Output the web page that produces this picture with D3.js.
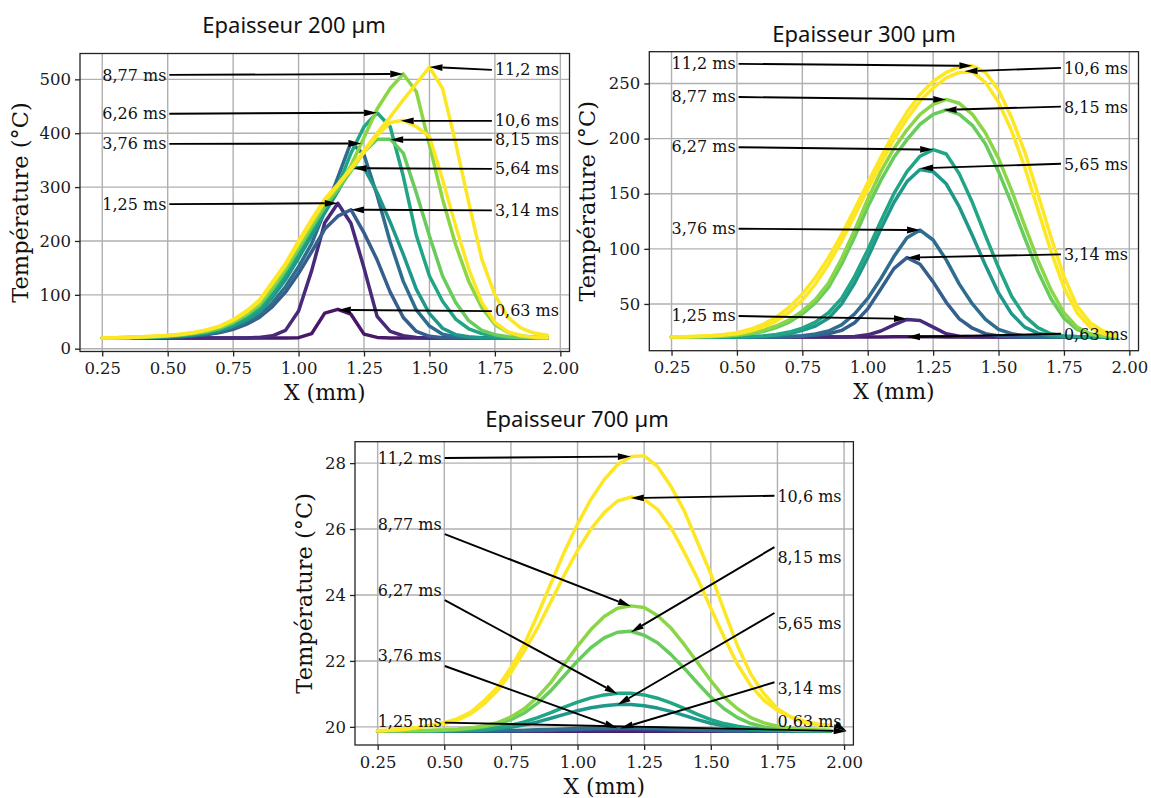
<!DOCTYPE html>
<html><head><meta charset="utf-8">
<script src="https://cdn.jsdelivr.net/npm/d3@7"></script>
<style>
html,body{margin:0;padding:0;background:#fff;}
svg{display:block;}
</style></head><body>
<svg id="chart" width="1151" height="798"></svg>
<script>
// ---------------- DATA ----------------
const X_MM = [0.25,0.30,0.35,0.40,0.45,0.50,0.55,0.60,0.65,0.70,0.75,0.80,0.85,0.90,0.95,1.00,1.05,1.10,1.15,1.20,1.25,1.30,1.35,1.40,1.45,1.50,1.55,1.60,1.65,1.70,1.75,1.80,1.85,1.90,1.95];
const TIMES_MS = [0.63,1.25,3.14,3.76,5.64,6.26,8.15,8.77,10.6,11.2];
const X_TICKS = [0.25,0.50,0.75,1.00,1.25,1.50,1.75,2.00];
const Y_TICKS_200 = [0,100,200,300,400,500];
const Y_TICKS_300 = [50,100,150,200,250];
const Y_TICKS_700 = [20,22,24,26,28];
const TITLES = ["Epaisseur 200 µm","Epaisseur 300 µm","Epaisseur 700 µm"];

// Epaisseur 200 µm
const T200_063 = [20,20,20,20,20,20,20,20,20,20,20,20,20,20,20,20.5,28,66,73,64,27,21,20,20,20,20,20,20,20,20,20,20,20,20,20];
const T200_125 = [20,20,20,20,20,20,20,20,20,20,20,20,21,24,34,70,145,234,270,233,150,60,32,24,21,20,20,20,20,20,20,20,20,20,20];
const T200_314 = [20,20,20.1,20.3,20.7,21.3,22.3,24,26.5,30,36,45,58,78,105,140,180,222,246,258,215,165,105,58,32,23,20.5,20,20,20,20,20,20,20,20];
const T200_376 = [20,20,20.1,20.4,20.9,21.6,22.8,24.5,27,31,38,48,62,85,115,152,195,255,318,383,360,285,198,125,72,42,27,22,20.5,20,20,20,20,20,20];
const T200_564 = [20,20.1,20.3,20.7,21.3,22.3,23.8,26,29,34,42,53,68,95,128,168,210,252,292,336,336,290,235,175,110,65,38,26,22,20.5,20,20,20,20,20];
const T200_626 = [20,20.2,20.5,21,21.8,23,24.5,27,30.5,36,45,57,74,102,137,178,220,262,301,363,412,438,412,320,210,135,88,55,37,28,23,21,20.5,20,20];
const T200_815 = [20,20.3,20.6,21.3,22.2,23.5,25.5,28,32,38,48,62,80,110,145,185,225,263,295,330,365,389,389,363,289,209,135,86,52,34,26,22,21,20.5,20];
const T200_877 = [20,20.3,20.7,21.5,22.5,24,26,29,33,40,50,64,83,115,150,190,230,270,300,340,392,445,483,510,477,378,278,193,125,76,45,30,24,21.5,20.5];
const T200_106 = [20,20.5,21,22,23,24.5,27,30,35,42,53,68,88,121,155,196,236,274,303,333,365,396,420,424,412,394,314,228,148,86,49,31,24,21,20.5];
const T200_112 = [20,20.5,21,22,23,25,27,30,35,42,54,70,90,124,158,200,240,278,305,335,368,400,430,462,492,523,483,382,271,166,100,58,38,29,25];

// Epaisseur 300 µm
const T300_063 = [20,20,20,20,20,20,20,20,20,20,20,20,20,20,20,20,20.1,20.2,20.3,20.3,20.2,20.1,20,20,20,20,20,20,20,20,20,20,20,20,20];
const T300_125 = [20,20,20,20,20,20,20,20,20,20,20,20,20,20.1,20.5,22,25.5,31,36,35,29,23,20.8,20.2,20,20,20,20,20,20,20,20,20,20,20];
const T300_314 = [20,20,20,20,20,20,20,20,20.05,20.2,20.6,21.5,23,26,33,45.5,63.6,82,92,86,70,51.5,36.5,28,23,21,20.3,20,20,20,20,20,20,20,20];
const T300_376 = [20,20,20,20,20,20,20,20.02,20.1,20.4,21.2,22.8,25.5,31,41,55,73,93,110,117,108,90,68,50,36,27,23,21,20.3,20,20,20,20,20,20];
const T300_565 = [20,20,20,20,20,20.05,20.2,20.6,21.5,23,26,30,37,50,69,92,118,142,161,172,170,159,138,112,85,60,41,29,23.5,21.2,20.4,20.1,20,20,20];
const T300_627 = [20,20,20,20,20.03,20.1,20.4,21,22.3,24.5,28,33.5,42,55,75,99,125,150,170,184,190,186,168,142,112,83,57,39,28.5,23,21,20.4,20.1,20,20];
const T300_815 = [20,20.05,20.15,20.35,20.8,21.5,23,25,28.5,33.5,41,51,65,86,111,138,162,183,199,213,222,226,222,212,195,170,141,110,80,55,37,27,22.5,20.8,20.3];
const T300_877 = [20,20.1,20.25,20.5,21,22,23.8,26.2,30,35.5,43.5,54,69,91,117,145,170,191,208,222,231,235.5,232,222,205,182,153,121,90,63,42,29,23,21,20.5];
const T300_106 = [20,20.2,20.5,21,21.8,23,25.5,29,34.5,42.5,53.5,68,86,107,130,154,177,199,218,234,246,255,260,260.5,251,233,207,174,136,98,65,42,29,23,21];
const T300_112 = [20,20.3,20.7,21.3,22.3,24,27,31.5,38,47,59,74,92,113,136,160,183,205,224,240,252,260,265,266,260,244,219,188,150,111,75,48,33,25.5,22];

// Epaisseur 700 µm
const T700_063 = [19.87,19.87,19.87,19.87,19.87,19.87,19.87,19.87,19.87,19.87,19.87,19.87,19.87,19.87,19.87,19.87,19.87,19.87,19.87,19.87,19.87,19.87,19.87,19.87,19.87,19.87,19.87,19.87,19.87,19.87,19.87,19.87,19.87,19.87,19.87];
const T700_125 = [19.88,19.88,19.88,19.88,19.88,19.88,19.88,19.88,19.88,19.88,19.88,19.88,19.88,19.88,19.88,19.88,19.88,19.89,19.9,19.9,19.89,19.88,19.88,19.88,19.88,19.88,19.88,19.88,19.88,19.88,19.88,19.88,19.88,19.88,19.88];
const T700_314 = [19.88,19.88,19.88,19.88,19.88,19.88,19.88,19.88,19.88,19.88,19.88,19.88,19.89,19.9,19.91,19.92,19.935,19.945,19.95,19.95,19.945,19.935,19.92,19.905,19.895,19.89,19.88,19.88,19.88,19.88,19.88,19.88,19.88,19.88,19.88];
const T700_376 = [19.88,19.88,19.88,19.88,19.88,19.88,19.88,19.88,19.88,19.88,19.89,19.9,19.91,19.92,19.935,19.95,19.96,19.968,19.972,19.97,19.965,19.955,19.94,19.925,19.91,19.9,19.89,19.88,19.88,19.88,19.88,19.88,19.88,19.88,19.88];
const T700_565 = [19.88,19.88,19.88,19.88,19.88,19.88,19.88,19.89,19.9,19.94,19.99,20.06,20.15,20.26,20.38,20.49,20.58,20.64,20.68,20.68,20.64,20.57,20.47,20.35,20.22,20.11,20.03,19.97,19.93,19.9,19.89,19.88,19.88,19.88,19.88];
const T700_627 = [19.88,19.88,19.88,19.88,19.88,19.88,19.89,19.9,19.93,19.98,20.05,20.15,20.28,20.43,20.6,20.75,20.88,20.97,21.02,21.02,20.97,20.87,20.73,20.56,20.38,20.22,20.1,20.02,19.96,19.92,19.9,19.89,19.88,19.88,19.88];
const T700_815 = [19.88,19.88,19.88,19.88,19.88,19.9,19.92,19.95,20.0,20.08,20.22,20.42,20.72,21.1,21.55,22.0,22.4,22.7,22.87,22.9,22.78,22.55,22.2,21.78,21.33,20.9,20.55,20.28,20.1,20.0,19.94,19.91,19.9,19.89,19.88];
const T700_877 = [19.88,19.88,19.88,19.89,19.9,19.91,19.93,19.97,20.03,20.13,20.3,20.55,20.9,21.35,21.9,22.45,22.95,23.35,23.6,23.67,23.62,23.38,23.0,22.5,21.95,21.4,20.9,20.55,20.28,20.12,20.02,19.96,19.93,19.91,19.9];
const T700_106 = [19.88,19.9,19.93,19.98,20.04,20.1,20.2,20.4,20.7,21.1,21.65,22.3,23.0,23.8,24.6,25.35,26.0,26.5,26.85,26.97,26.9,26.6,26.05,25.3,24.5,23.6,22.72,21.9,21.25,20.8,20.5,20.3,20.17,20.09,20.05];
const T700_112 = [19.88,19.9,19.93,19.98,20.05,20.13,20.25,20.45,20.8,21.2,21.8,22.5,23.4,24.35,25.3,26.15,26.9,27.5,27.95,28.2,28.22,27.9,27.3,26.56,25.6,24.64,23.53,22.46,21.6,21.0,20.55,20.3,20.14,20.06,20.02];

// Annotations (text position and arrow target in data units)
const ANN200_LABELS = ["8,77 ms","6,26 ms","3,76 ms","1,25 ms","11,2 ms","10,6 ms","8,15 ms","5,64 ms","3,14 ms","0,63 ms"];
const ANN200_TEXT_X = [0.25,0.25,0.25,0.25,1.75,1.75,1.75,1.75,1.75,1.75];
const ANN200_TEXT_Y = [508,436,380,268,519,423,388,334,257,70];
const ANN200_TARGET_X = [1.40,1.30,1.24,1.15,1.50,1.39,1.35,1.21,1.20,1.15];
const ANN200_TARGET_Y = [510,438,381,270,523,423,388,335,258,72];

const ANN300_LABELS = ["11,2 ms","8,77 ms","6,27 ms","3,76 ms","1,25 ms","10,6 ms","8,15 ms","5,65 ms","3,14 ms","0,63 ms"];
const ANN300_TEXT_X = [0.25,0.25,0.25,0.25,0.25,1.75,1.75,1.75,1.75,1.75];
const ANN300_TEXT_Y = [268,238,192.5,118.5,39.5,263.5,228.5,176.5,94.5,22.5];
const ANN300_TARGET_X = [1.40,1.30,1.25,1.20,1.15,1.37,1.29,1.20,1.15,1.15];
const ANN300_TARGET_Y = [266,235.5,190,117,36.5,261,226,173,92,20];

const ANN700_LABELS = ["11,2 ms","8,77 ms","6,27 ms","3,76 ms","1,25 ms","10,6 ms","8,15 ms","5,65 ms","3,14 ms","0,63 ms"];
const ANN700_TEXT_X = [0.25,0.25,0.25,0.25,0.25,1.75,1.75,1.75,1.75,1.75];
const ANN700_TEXT_Y = [28.15,26.15,24.15,22.15,20.15,27.0,25.15,23.15,21.15,20.15];
const ANN700_TARGET_X = [1.20,1.20,1.15,1.15,2.01,1.20,1.20,1.15,1.16,2.01];
const ANN700_TARGET_Y = [28.2,23.66,21.0,19.96,19.87,26.94,22.87,20.67,19.95,19.87];

// ---------------- LAYOUT / STYLE ----------------
const SERIF = "'DejaVu Serif', serif";
const SANS = "'Noto Sans', 'Open Sans', sans-serif";
const X_DOMAIN = [0.165, 2.035];

const panels = [
  { title: TITLES[0], titleX: 294, titleY: 24, left: 80, right: 569.5, top: 53.5, bottom: 351.5, yDomain: [-5.2, 548],
    yTicks: Y_TICKS_200, ylabX: 20,
    series: [T200_063,T200_125,T200_314,T200_376,T200_564,T200_626,T200_815,T200_877,T200_106,T200_112],
    ann: {labels: ANN200_LABELS, tx: ANN200_TEXT_X, ty: ANN200_TEXT_Y, ex: ANN200_TARGET_X, ey: ANN200_TARGET_Y} },
  { title: TITLES[1], titleX: 864, titleY: 33, left: 649.3, right: 1138.5, top: 51.7, bottom: 350.7, yDomain: [7.6, 278.8],
    yTicks: Y_TICKS_300, ylabX: 587,
    series: [T300_063,T300_125,T300_314,T300_376,T300_565,T300_627,T300_815,T300_877,T300_106,T300_112],
    ann: {labels: ANN300_LABELS, tx: ANN300_TEXT_X, ty: ANN300_TEXT_Y, ex: ANN300_TARGET_X, ey: ANN300_TARGET_Y} },
  { title: TITLES[2], titleX: 577, titleY: 418, left: 355, right: 853.4, top: 441.7, bottom: 745, yDomain: [19.45, 28.65],
    yTicks: Y_TICKS_700, ylabX: 304,
    series: [T700_063,T700_125,T700_314,T700_376,T700_565,T700_627,T700_815,T700_877,T700_106,T700_112],
    ann: {labels: ANN700_LABELS, tx: ANN700_TEXT_X, ty: ANN700_TEXT_Y, ex: ANN700_TARGET_X, ey: ANN700_TARGET_Y} }
];

const svg = d3.select("#chart");
svg.append("rect").attr("width",1151).attr("height",798).attr("fill","#fff");
const colorOf = t => d3.interpolateViridis(Math.min(1, t / 10.6));

panels.forEach((p, pi) => {
  const x = d3.scaleLinear().domain(X_DOMAIN).range([p.left, p.right]);
  const y = d3.scaleLinear().domain(p.yDomain).range([p.bottom, p.top]);
  const g = svg.append("g");
  const clipId = "clip" + pi;
  svg.append("defs").append("clipPath").attr("id", clipId)
    .append("rect").attr("x", p.left).attr("y", p.top)
    .attr("width", p.right - p.left).attr("height", p.bottom - p.top);

  // grid
  g.append("g").selectAll("line").data(X_TICKS).join("line")
    .attr("x1", d => x(d)).attr("x2", d => x(d)).attr("y1", p.top).attr("y2", p.bottom)
    .attr("stroke", "#b0b0b0").attr("stroke-width", 1.4);
  g.append("g").selectAll("line").data(p.yTicks).join("line")
    .attr("x1", p.left).attr("x2", p.right).attr("y1", d => y(d)).attr("y2", d => y(d))
    .attr("stroke", "#b0b0b0").attr("stroke-width", 1.4);

  // axes
  const xa = g.append("g").attr("transform", `translate(0,${p.bottom})`)
    .call(d3.axisBottom(x).tickValues(X_TICKS).tickFormat(d3.format(".2f")).tickSize(5).tickPadding(6));
  const ya = g.append("g").attr("transform", `translate(${p.left},0)`)
    .call(d3.axisLeft(y).tickValues(p.yTicks).tickFormat(d3.format("d")).tickSize(5).tickPadding(4));
  [xa, ya].forEach(a => {
    a.select(".domain").remove();
    a.attr("font-family", SERIF).attr("font-size", 16.5);
    a.selectAll(".tick line").attr("stroke", "#222").attr("stroke-width", 1.3);
    a.selectAll(".tick text").attr("fill", "#1a1a1a");
  });

  // curves
  const line = d3.line().x((d, i) => x(X_MM[i])).y(d => y(d));
  const cg = g.append("g").attr("clip-path", `url(#${clipId})`);
  p.series.forEach((s, i) => {
    cg.append("path").attr("d", line(s)).attr("fill", "none")
      .attr("stroke", colorOf(TIMES_MS[i])).attr("stroke-width", 3.5)
      .attr("stroke-linejoin", "round").attr("stroke-linecap", "round");
  });

  // frame
  g.append("rect").attr("x", p.left).attr("y", p.top)
    .attr("width", p.right - p.left).attr("height", p.bottom - p.top)
    .attr("fill", "none").attr("stroke", "#222").attr("stroke-width", 1.3);

  // labels
  g.append("text").attr("x", (p.left + p.right) / 2).attr("y", p.bottom + 41)
    .attr("text-anchor", "middle").attr("dominant-baseline", "central")
    .attr("font-family", SERIF).attr("font-size", 22).attr("fill", "#111").text("X (mm)");
  g.append("text").attr("transform", `translate(${p.ylabX},${(p.top + p.bottom) / 2}) rotate(-90)`)
    .attr("text-anchor", "middle").attr("dominant-baseline", "central")
    .attr("font-family", SERIF).attr("font-size", 22.5).attr("fill", "#111").text("Température (°C)");
  g.append("text").attr("x", p.titleX).attr("y", p.titleY)
    .attr("text-anchor", "middle").attr("dominant-baseline", "central")
    .attr("font-family", SANS).attr("font-size", 22).attr("fill", "#111").text(p.title);

  // annotations
  const A = p.ann;
  const ag = g.append("g");
  A.labels.forEach((lab, i) => {
    const tx = x(A.tx[i]), ty = y(A.ty[i]);
    const t = ag.append("text").attr("x", tx).attr("y", ty).attr("dominant-baseline", "central")
      .attr("font-family", SERIF).attr("font-size", 16).attr("fill", "#111").text(lab);
    const bb = t.node().getBBox();
    const ex = x(A.ex[i]), ey = y(A.ey[i]);
    const cx = bb.x + bb.width / 2, cy = ty;
    const right = ex > cx;
    const sx = right ? bb.x + bb.width + 3 : bb.x - 3;
    const slope = (ey - cy) / (ex - cx);
    const sy = cy + Math.max(-10, Math.min(10, slope * bb.width / 2));
    const dx = ex - sx, dy = ey - sy, len = Math.hypot(dx, dy);
    const ux = dx / len, uy = dy / len;
    const HL = 13, HW = 3.4;
    const bx = ex - ux * HL, by = ey - uy * HL;
    if (len > HL) {
      ag.append("line").attr("x1", sx).attr("y1", sy).attr("x2", bx).attr("y2", by)
        .attr("stroke", "#000").attr("stroke-width", 1.9);
    }
    ag.append("path")
      .attr("d", `M${ex},${ey}L${bx - uy * HW},${by + ux * HW}L${bx + uy * HW},${by - ux * HW}Z`)
      .attr("fill", "#000");
  });
});
</script></body></html>
